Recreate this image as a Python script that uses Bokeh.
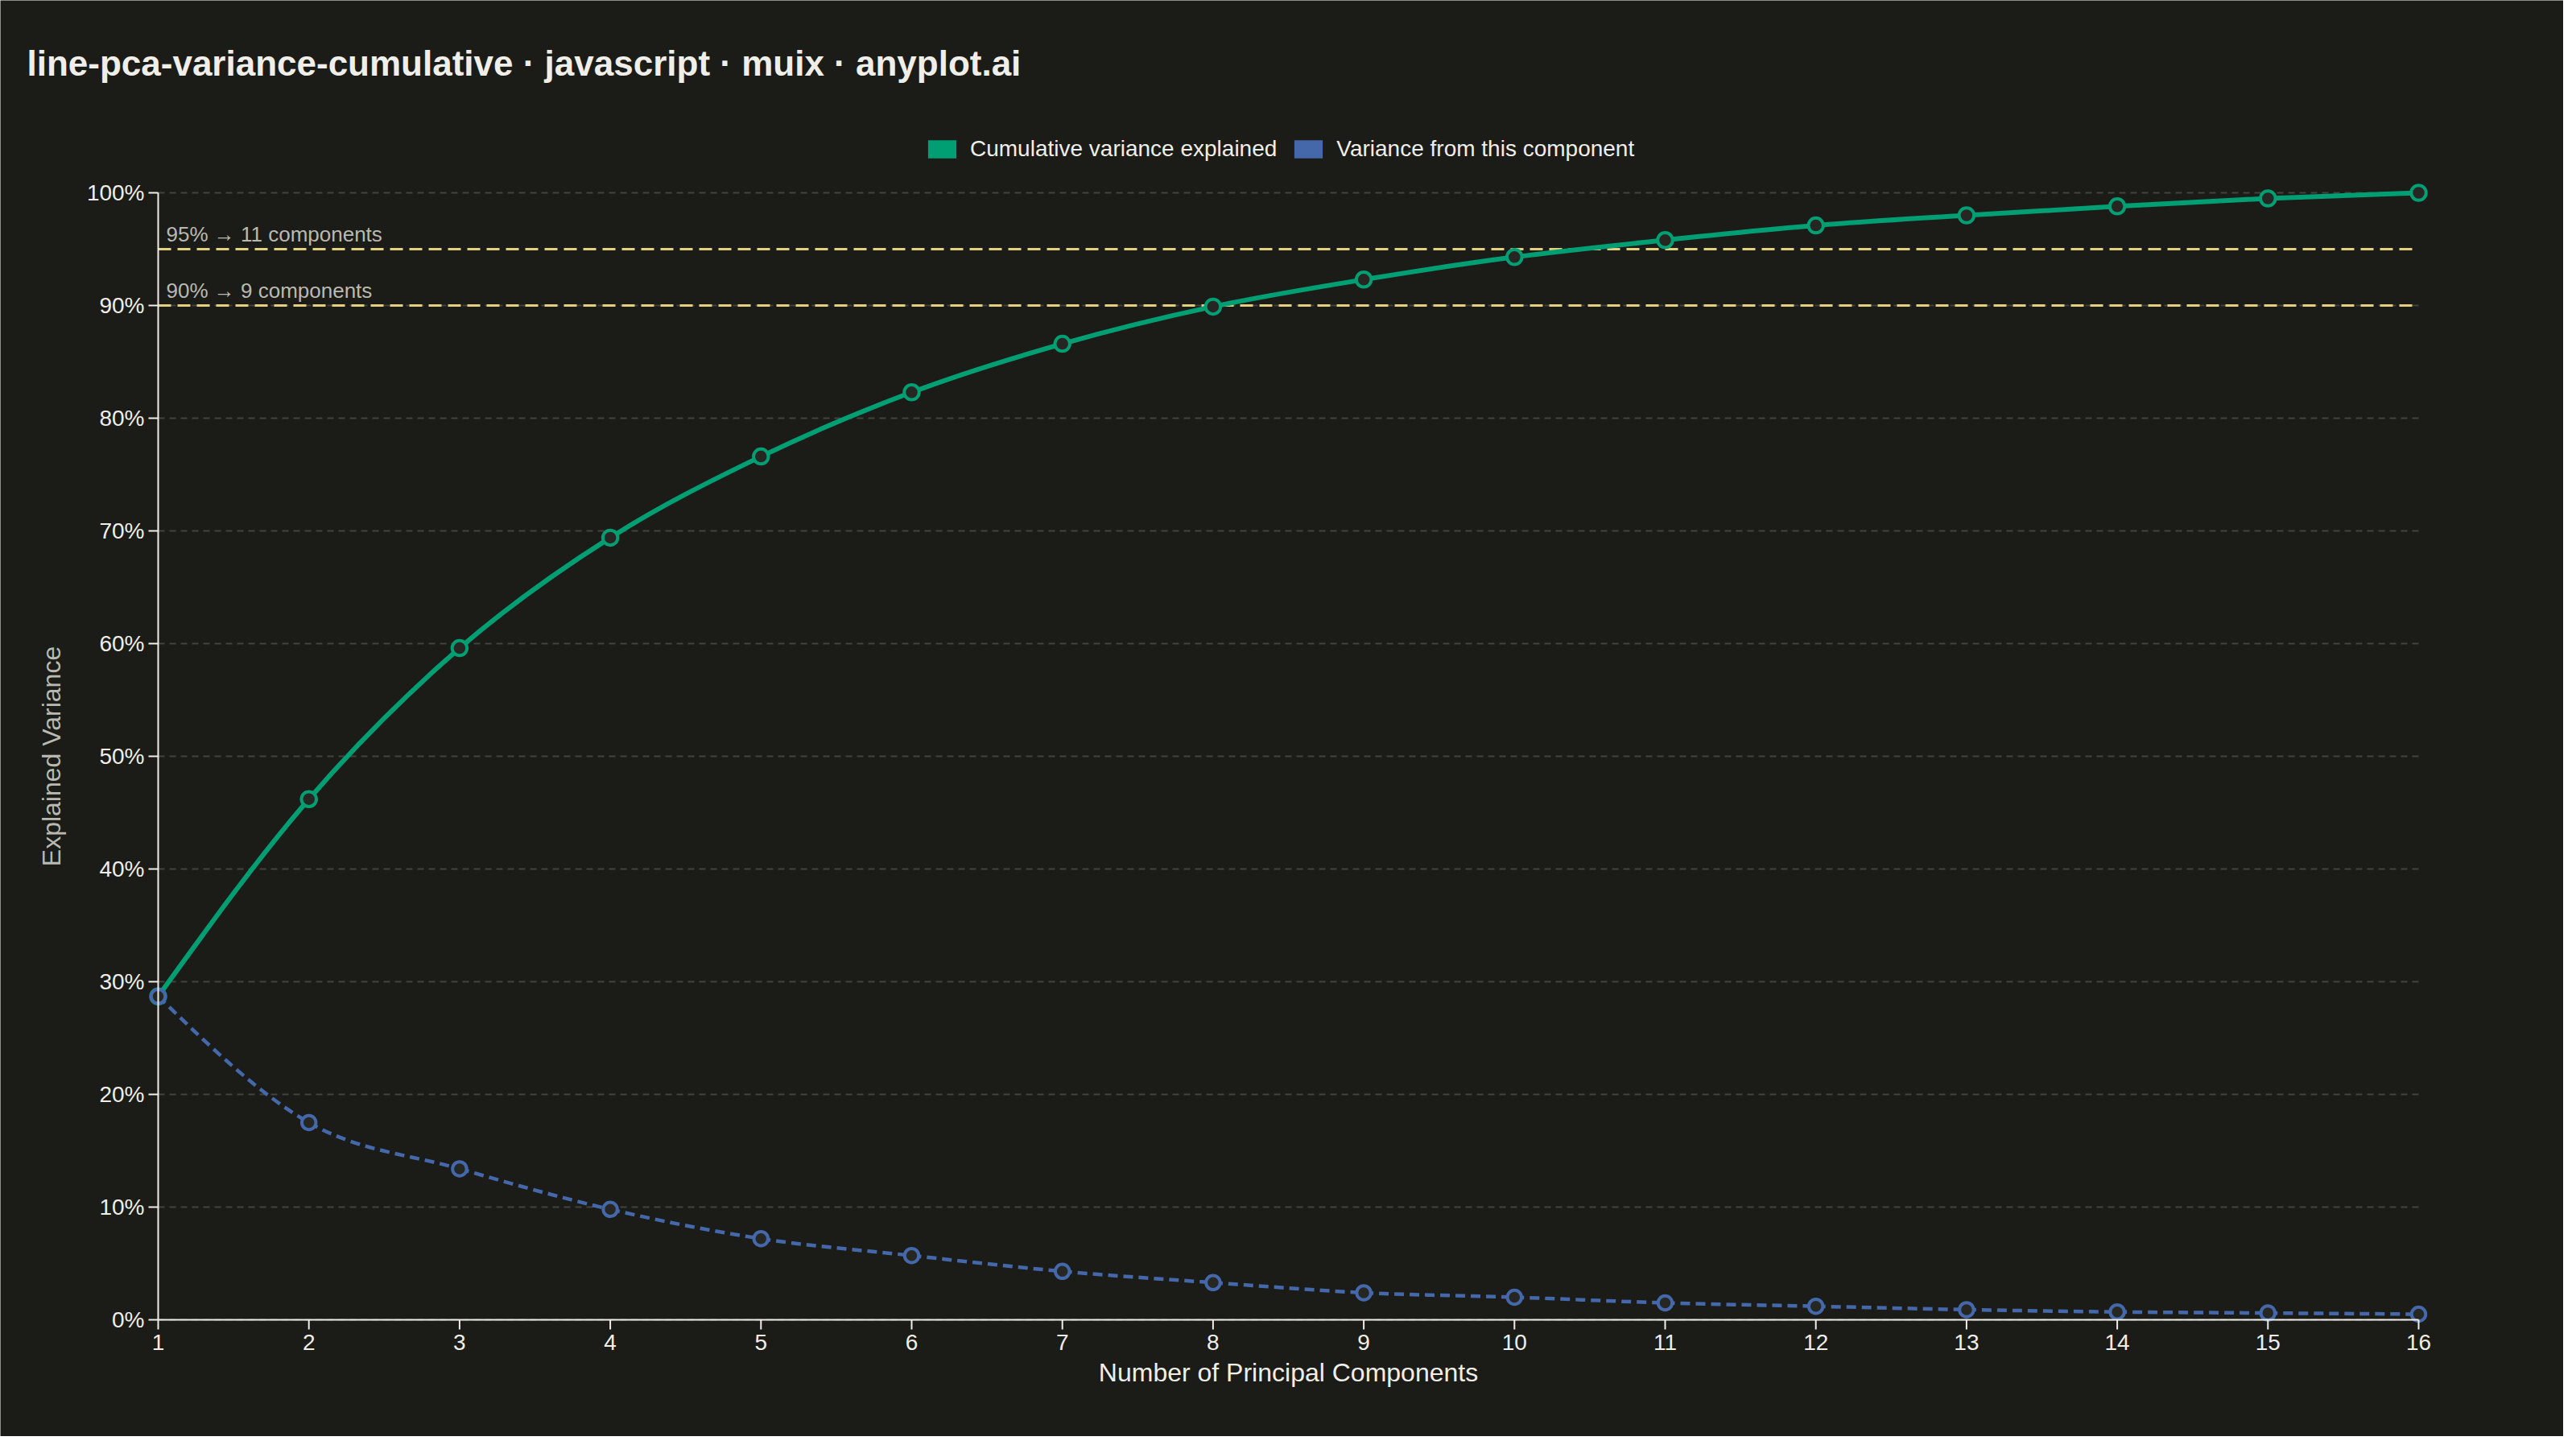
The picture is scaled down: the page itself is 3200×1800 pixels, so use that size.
import math
from bokeh.plotting import figure
from bokeh.models import Range1d, Label, Legend, LegendItem, ColumnDataSource
from bokeh.embed import file_html
from bokeh.resources import INLINE

# ---------------- data ----------------
components = list(range(1, 17))
cumulative = [28.7, 46.2, 59.6, 69.4, 76.6, 82.3, 86.6, 89.9,
              92.3, 94.3, 95.8, 97.1, 98.0, 98.8, 99.5, 100.0]
individual = [28.7, 17.5, 13.4, 9.8, 7.2, 5.7, 4.3, 3.3,
              2.4, 2.0, 1.5, 1.2, 0.9, 0.7, 0.6, 0.5]
y_ticks = [0, 10, 20, 30, 40, 50, 60, 70, 80, 90, 100]
y_tick_labels = [f"{t}%" for t in y_ticks]
x_tick_labels = [str(c) for c in components]
threshold_pct = [95, 90]
threshold_n = [11, 9]
series_names = ["Cumulative variance explained", "Variance from this component"]
title_text = "line-pca-variance-cumulative \u00b7 javascript \u00b7 muix \u00b7 anyplot.ai"
x_title = "Number of Principal Components"
y_title = "Explained Variance"

# ---------------- style ----------------
BG = "#1b1b17"
FG = "#efeee8"
MUTED = "#b9b9b1"
GREEN = "#009e73"
BLUE = "#4468aa"
YELLOW = "#e3d07e"
GRID = "#44443f"
MFILL = "#262623"
FONT = "Liberation Sans"

W, H = 3184, 1784
# plot box (data box) in canvas pixels: left, right, top, bottom
BOX_L, BOX_R, BOX_T, BOX_B = 196, 3004, 239, 1639
TICK = 12

x_lo, x_hi = components[0], components[-1]
y_lo, y_hi = y_ticks[0], y_ticks[-1]
ppx = (BOX_R - BOX_L) / (x_hi - x_lo)
ppy = (BOX_B - BOX_T) / (y_hi - y_lo)

p = figure(width=W, height=H, output_backend="svg", toolbar_location=None, title=None,
           x_axis_location=None, y_axis_location=None,
           x_range=Range1d(x_lo - BOX_L / ppx, x_hi + (W - BOX_R) / ppx),
           y_range=Range1d(y_lo - (H - BOX_B) / ppy, y_hi + BOX_T / ppy),
           min_border=0)
p.background_fill_color = BG
p.border_fill_color = BG
p.outline_line_color = None
p.xgrid.visible = False
p.ygrid.visible = False

# grid lines (horizontal, dashed)
p.segment(x0=[x_lo] * len(y_ticks), x1=[x_hi] * len(y_ticks),
          y0=y_ticks, y1=y_ticks, line_color=GRID, line_width=2, line_dash="8 6")

# threshold lines and labels
p.segment(x0=[x_lo] * len(threshold_pct), x1=[x_hi] * len(threshold_pct),
          y0=threshold_pct, y1=threshold_pct, line_color=YELLOW, line_width=3,
          line_dash="16 8")
for t, n in zip(threshold_pct, threshold_n):
    p.add_layout(Label(x=x_lo, y=t, x_offset=10, y_offset=4,
                       text=f"{t}% \u2192 {n} components", text_color=MUTED,
                       text_font=FONT, text_font_size="26px", text_baseline="bottom"))


def monotone_bezier(xs, ys):
    """Control points for a monotone cubic (d3 curveMonotoneX) through the points."""
    n = len(xs)
    t = [0.0] * n
    for i in range(1, n - 1):
        h0 = xs[i] - xs[i - 1]
        h1 = xs[i + 1] - xs[i]
        s0 = (ys[i] - ys[i - 1]) / h0
        s1 = (ys[i + 1] - ys[i]) / h1
        pp = (s0 * h1 + s1 * h0) / (h0 + h1)
        sg = (1 if s0 > 0 else -1 if s0 < 0 else 0) + (1 if s1 > 0 else -1 if s1 < 0 else 0)
        t[i] = sg * min(abs(s0), abs(s1), 0.5 * abs(pp))
    h = xs[1] - xs[0]
    t[0] = (3 * (ys[1] - ys[0]) / h - t[1]) / 2
    h = xs[-1] - xs[-2]
    t[-1] = (3 * (ys[-1] - ys[-2]) / h - t[-2]) / 2
    d = dict(x0=[], y0=[], x1=[], y1=[], cx0=[], cy0=[], cx1=[], cy1=[])
    for i in range(n - 1):
        dx = (xs[i + 1] - xs[i]) / 3
        d["x0"].append(xs[i]); d["y0"].append(ys[i])
        d["x1"].append(xs[i + 1]); d["y1"].append(ys[i + 1])
        d["cx0"].append(xs[i] + dx); d["cy0"].append(ys[i] + dx * t[i])
        d["cx1"].append(xs[i + 1] - dx); d["cy1"].append(ys[i + 1] - dx * t[i + 1])
    return ColumnDataSource(d)


cum_src = monotone_bezier(components, cumulative)
ind_src = monotone_bezier(components, individual)

p.bezier(x0="x0", y0="y0", x1="x1", y1="y1", cx0="cx0", cy0="cy0", cx1="cx1", cy1="cy1",
         source=cum_src, line_color=GREEN, line_width=6)
p.scatter(components, cumulative, size=18.5, line_color=GREEN, line_width=4, fill_color=MFILL)
p.bezier(x0="x0", y0="y0", x1="x1", y1="y1", cx0="cx0", cy0="cy0", cx1="cx1", cy1="cy1",
         source=ind_src, line_color=BLUE, line_width=4.5, line_dash="12 7")
p.scatter(components, individual, size=17.5, line_color=BLUE, line_width=4, fill_color=MFILL)

# axis lines and tick marks
p.segment(x0=[x_lo, x_lo], y0=[y_lo, y_lo], x1=[x_hi, x_lo], y1=[y_lo, y_hi],
          line_color=FG, line_width=2)
p.segment(x0=components, x1=components, y0=[y_lo] * len(components),
          y1=[y_lo - TICK / ppy] * len(components), line_color=FG, line_width=2)
p.segment(x0=[x_lo] * len(y_ticks), x1=[x_lo - TICK / ppx] * len(y_ticks),
          y0=y_ticks, y1=y_ticks, line_color=FG, line_width=2)

# tick labels
for c, lab in zip(components, x_tick_labels):
    p.add_layout(Label(x=c, y=y_lo, y_offset=-28, text=lab, text_color=FG,
                       text_font=FONT, text_font_size="28px",
                       text_align="center", text_baseline="middle"))
for t, lab in zip(y_ticks, y_tick_labels):
    p.add_layout(Label(x=x_lo, y=t, x_offset=-17, text=lab, text_color=FG,
                       text_font=FONT, text_font_size="28px",
                       text_align="right", text_baseline="middle"))

# axis titles
p.add_layout(Label(x=(x_lo + x_hi) / 2, y=y_lo, y_offset=-65, text=x_title,
                   text_color=FG, text_font=FONT, text_font_size="32px",
                   text_align="center", text_baseline="middle"))
p.add_layout(Label(x=x_lo, y=(y_lo + y_hi) / 2, x_offset=-133, text=y_title,
                   angle=math.pi / 2, text_color=MUTED, text_font=FONT,
                   text_font_size="32px", text_align="center", text_baseline="middle"))

# legend (square swatches from zero-area quads at the origin)
sw_green = p.quad(left=[x_lo], right=[x_lo], top=[y_lo], bottom=[y_lo],
                  fill_color=GREEN, line_color=None)
sw_blue = p.quad(left=[x_lo], right=[x_lo], top=[y_lo], bottom=[y_lo],
                 fill_color=BLUE, line_color=None)
legend = Legend(items=[LegendItem(label=series_names[0], renderers=[sw_green]),
                       LegendItem(label=series_names[1], renderers=[sw_blue])],
                orientation="horizontal", location=(1148, H - 201),
                glyph_width=44, glyph_height=28, label_standoff=13, spacing=17,
                padding=0, margin=0, border_line_color=None, background_fill_alpha=0,
                label_text_color=FG, label_text_font=FONT, label_text_font_size="28px",
                label_height=30)
p.add_layout(legend, "center")

# title
p.add_layout(Label(x=33, y=H - 78, x_units="screen", y_units="screen", text=title_text,
                   text_color=FG, text_font=FONT, text_font_size="44px",
                   text_font_style="bold", text_baseline="middle"))

open("out.html", "w").write(file_html(p, INLINE))
